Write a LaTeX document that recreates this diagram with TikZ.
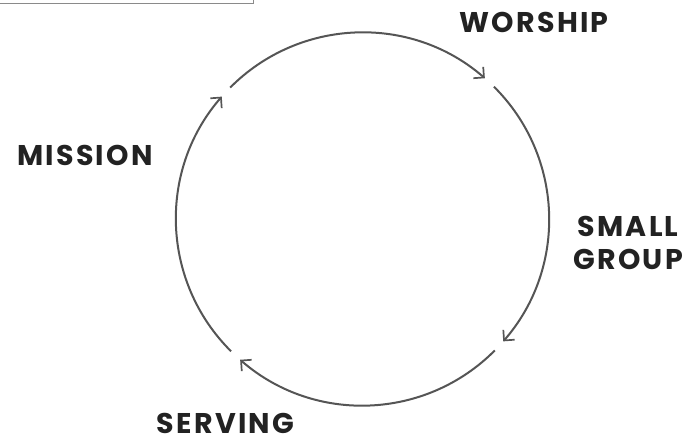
\documentclass[tikz,border=0pt]{standalone}
\usepackage{fontspec}
\usetikzlibrary{arrows.meta,calc}
\newfontfamily\labfont{Poppins}[LetterSpace=8]
\definecolor{txt}{HTML}{222222}
\definecolor{ring}{HTML}{555555}
\definecolor{boxline}{HTML}{8A8A8A}
\begin{document}
\begin{tikzpicture}[x=1pt,y=1pt,
  lab/.style={font=\labfont\bfseries\fontsize{28.5}{33}\selectfont, text=txt, inner sep=0pt, anchor=base},
  cyc/.style={draw=ring, line width=2pt, -{Straight Barb[length=7.5pt,width=15pt,line width=1.7pt]}}]
\useasboundingbox (0,0) rectangle (698,439);
\fill[white] (0,0) rectangle (698,439);
% partial box at top-left
\draw[boxline, line width=1pt] (0,435.5) -- (253,435.5) -- (253,445);
% centre of the cycle
\coordinate (c) at (362.5,220);
% labels
\node[lab] (worship) at (534,406) {WORSHIP};
\node[lab] (mission) at (85,273.5) {MISSION};
\node[lab] (small) at (628,202) {SMALL};
\node[lab] (group) at (628,169) {GROUP};
\node[lab] (serving) at (225.5,5.5) {SERVING};
% arcs
\draw[cyc] ($(c)+(135.2:186.5)$) arc[start angle=135.2, end angle=49, radius=186.5];
\draw[cyc] ($(c)+(45.2:186.5)$) arc[start angle=45.2, end angle=-41, radius=186.5];
\draw[cyc] ($(c)+(-44.8:186.5)$) arc[start angle=-44.8, end angle=-131, radius=186.5];
\draw[cyc] ($(c)+(-134.8:186.5)$) arc[start angle=-134.8, end angle=-221, radius=186.5];
\end{tikzpicture}
\end{document}
